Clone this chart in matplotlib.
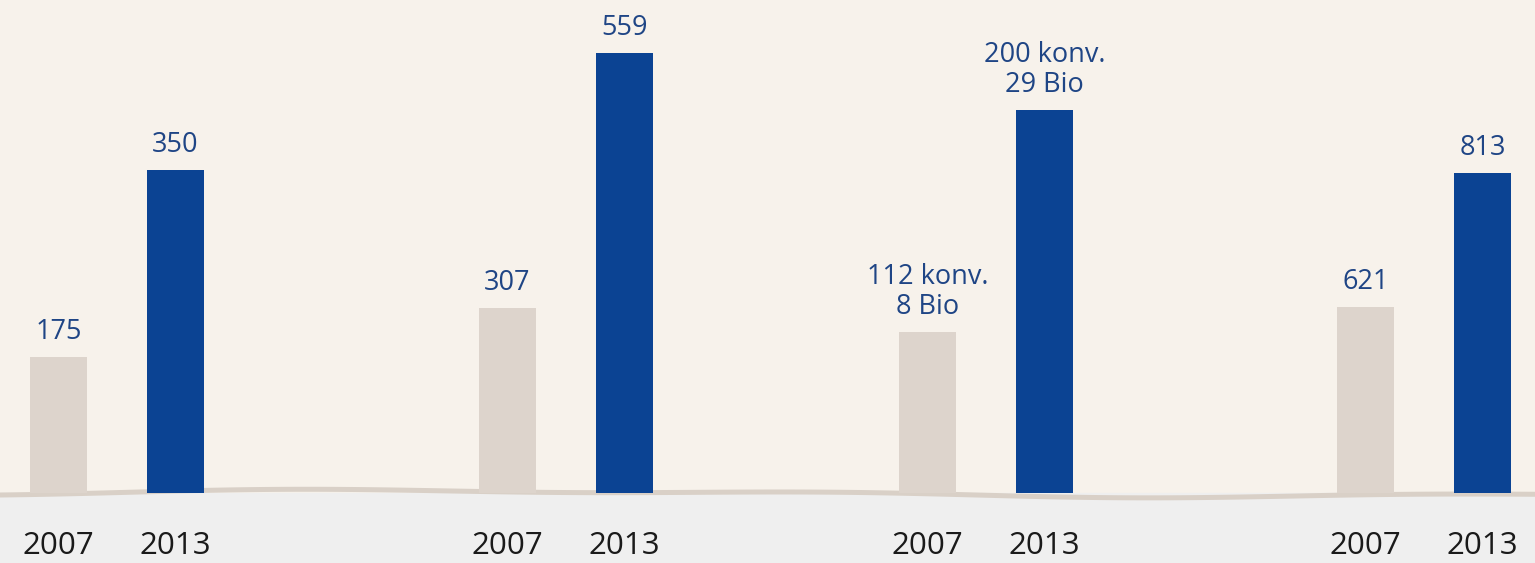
import numpy as np
import matplotlib
matplotlib.use("Agg")
import matplotlib.pyplot as plt

plt.rcParams['font.family'] = ['Open Sans', 'DejaVu Sans']

# data
years = ["2007", "2013"]
values_2007 = [175, 307, 120, 621]
values_2013 = [350, 559, 229, 813]
labels_2007 = ["175", "307", "112 konv.\n8 Bio", "621"]
labels_2013 = ["350", "559", "200 konv.\n29 Bio", "813"]

# each group has its own (truncated) value scale in the original graphic
y_floor = [48, 124, 41, 355]
y_ceil = [509, 611, 283, 1061]

# group layout (figure pixels)
group_left = [0, 449, 869, 1307]
group_span = 234

C_OLD = "#ddd4cc"
C_NEW = "#0b4393"
C_LABEL = "#1f4585"
BG_TOP = "#f7f2eb"
BG_BOT = "#efefef"

W, H = 1535, 563
base_px = 493

fig = plt.figure(figsize=(W / 100, H / 100), dpi=100)

# background
bg = fig.add_axes([0, 0, 1, 1])
bg.set_xlim(0, W)
bg.set_ylim(H, 0)
bg.axis('off')
bg.axhspan(0, base_px, color=BG_TOP, zorder=0)
bg.axhspan(base_px, H, color=BG_BOT, zorder=0)
xs = np.linspace(0, W, 400)
wave = base_px - 3 * np.sin(xs / 260.0) + 1.5 * np.cos(xs / 90.0)
bg.fill_between(xs, wave - 2, wave + 3, color="#d9d0c7", lw=0, zorder=1)

for i in range(4):
    ax = fig.add_axes([group_left[i] / W, (H - base_px) / H,
                       group_span / W, base_px / H])
    ax.set_xlim(-0.5, 1.5)
    ax.set_ylim(y_floor[i], y_ceil[i])
    ax.axis('off')
    ax.patch.set_alpha(0)
    bars = ax.bar([0, 1], [values_2007[i] - y_floor[i], values_2013[i] - y_floor[i]],
                  bottom=y_floor[i], width=0.48, color=[C_OLD, C_NEW], zorder=3)
    for b, lab in zip(bars, [labels_2007[i], labels_2013[i]]):
        ax.annotate(lab, (b.get_x() + b.get_width() / 2, b.get_y() + b.get_height()),
                    xytext=(0, 8), textcoords='offset points', ha='center', va='bottom',
                    fontsize=19.5, color=C_LABEL, linespacing=1.1)
    for k, yr in enumerate(years):
        ax.annotate(yr, (k, y_floor[i]), xytext=(0, -38), textcoords='offset points',
                    ha='center', va='center', fontsize=22.5, color="#1a1a1a",
                    annotation_clip=False)

fig.savefig("out.png", dpi=100)
